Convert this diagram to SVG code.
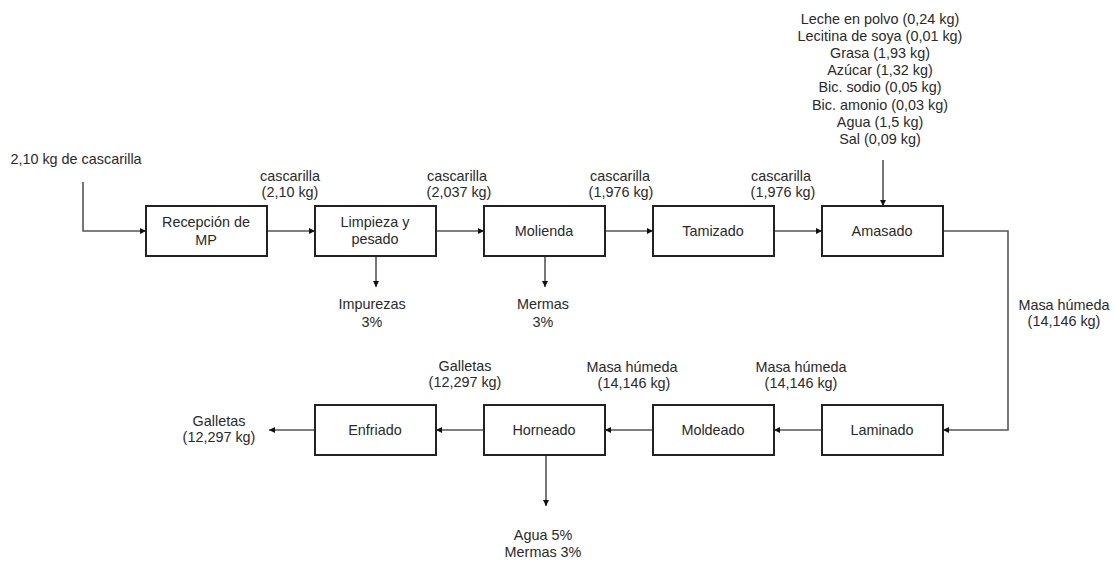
<svg xmlns="http://www.w3.org/2000/svg" width="1115" height="561" viewBox="0 0 1115 561">
<defs>
<style>
.box rect{fill:#fff;stroke:#222;stroke-width:2}
text{font-family:"Liberation Sans",Arial,sans-serif;font-size:14.4px;fill:#2a2a2a;text-anchor:middle}
.c path{fill:none;stroke:#555;stroke-width:1.6;marker-end:url(#ah)}
</style>
<marker id="ah" viewBox="0 0 10 10" refX="10" refY="5" markerWidth="6" markerHeight="6" orient="auto" markerUnits="userSpaceOnUse">
<path d="M0,0 L10,5 L0,10 Z" fill="#111"/>
</marker>
</defs>
<rect width="1115" height="561" fill="#fff"/>
<g class="c" id="connectors">
<path d="M83,182 V231 H146"/>
<path d="M267,231 H315"/>
<path d="M436,231 H484"/>
<path d="M605,231 H653"/>
<path d="M774,231 H822"/>
<path d="M883,160 V206"/>
<path d="M943,231 H1008 V430 H943"/>
<path d="M822,430 H774"/>
<path d="M653,430 H605"/>
<path d="M484,430 H436"/>
<path d="M315,430 H269"/>
<path d="M376,256 V287"/>
<path d="M545,256 V287"/>
<path d="M546,455 V506"/>
</g>
<g id="n-recepcion" class="box"><rect x="146" y="206" width="121" height="50"/><text x="206" y="227">Recepción de</text><text x="206" y="245">MP</text></g>
<g id="n-limpieza" class="box"><rect x="315" y="206" width="121" height="50"/><text x="375" y="227">Limpieza y</text><text x="375" y="244">pesado</text></g>
<g id="n-molienda" class="box"><rect x="484" y="206" width="121" height="50"/><text x="544" y="236">Molienda</text></g>
<g id="n-tamizado" class="box"><rect x="653" y="206" width="121" height="50"/><text x="713" y="236">Tamizado</text></g>
<g id="n-amasado" class="box"><rect x="822" y="206" width="121" height="50"/><text x="882" y="236">Amasado</text></g>
<g id="n-laminado" class="box"><rect x="822" y="405" width="121" height="50"/><text x="882" y="435">Laminado</text></g>
<g id="n-moldeado" class="box"><rect x="653" y="405" width="121" height="50"/><text x="713" y="435">Moldeado</text></g>
<g id="n-horneado" class="box"><rect x="484" y="405" width="121" height="50"/><text x="544" y="435">Horneado</text></g>
<g id="n-enfriado" class="box"><rect x="315" y="405" width="121" height="50"/><text x="375" y="435">Enfriado</text></g>
<g id="labels">
<text x="76" y="164">2,10 kg de cascarilla</text>
<text x="290" y="181">cascarilla</text><text x="290" y="197">(2,10 kg)</text>
<text x="457" y="181">cascarilla</text><text x="459" y="197">(2,037 kg)</text>
<text x="620" y="181">cascarilla</text><text x="621" y="197">(1,976 kg)</text>
<text x="781" y="181">cascarilla</text><text x="783" y="197">(1,976 kg)</text>
<text x="880" y="23.5">Leche en polvo (0,24 kg)</text>
<text x="880" y="40.7">Lecitina de soya (0,01 kg)</text>
<text x="880" y="57.9">Grasa (1,93 kg)</text>
<text x="880" y="75.1">Azúcar (1,32 kg)</text>
<text x="880" y="92.3">Bic. sodio (0,05 kg)</text>
<text x="880" y="109.5">Bic. amonio (0,03 kg)</text>
<text x="880" y="126.7">Agua (1,5 kg)</text>
<text x="880" y="143.9">Sal (0,09 kg)</text>
<text x="372" y="309">Impurezas</text><text x="372" y="327">3%</text>
<text x="543" y="309">Mermas</text><text x="543" y="327">3%</text>
<text x="1064" y="310">Masa húmeda</text><text x="1064" y="326">(14,146 kg)</text>
<text x="801" y="372">Masa húmeda</text><text x="801" y="388">(14,146 kg)</text>
<text x="632" y="372">Masa húmeda</text><text x="634" y="388">(14,146 kg)</text>
<text x="465" y="371">Galletas</text><text x="465" y="387">(12,297 kg)</text>
<text x="219" y="426">Galletas</text><text x="219" y="442">(12,297 kg)</text>
<text x="543" y="540">Agua 5%</text><text x="543" y="557">Mermas 3%</text>
</g>
</svg>
